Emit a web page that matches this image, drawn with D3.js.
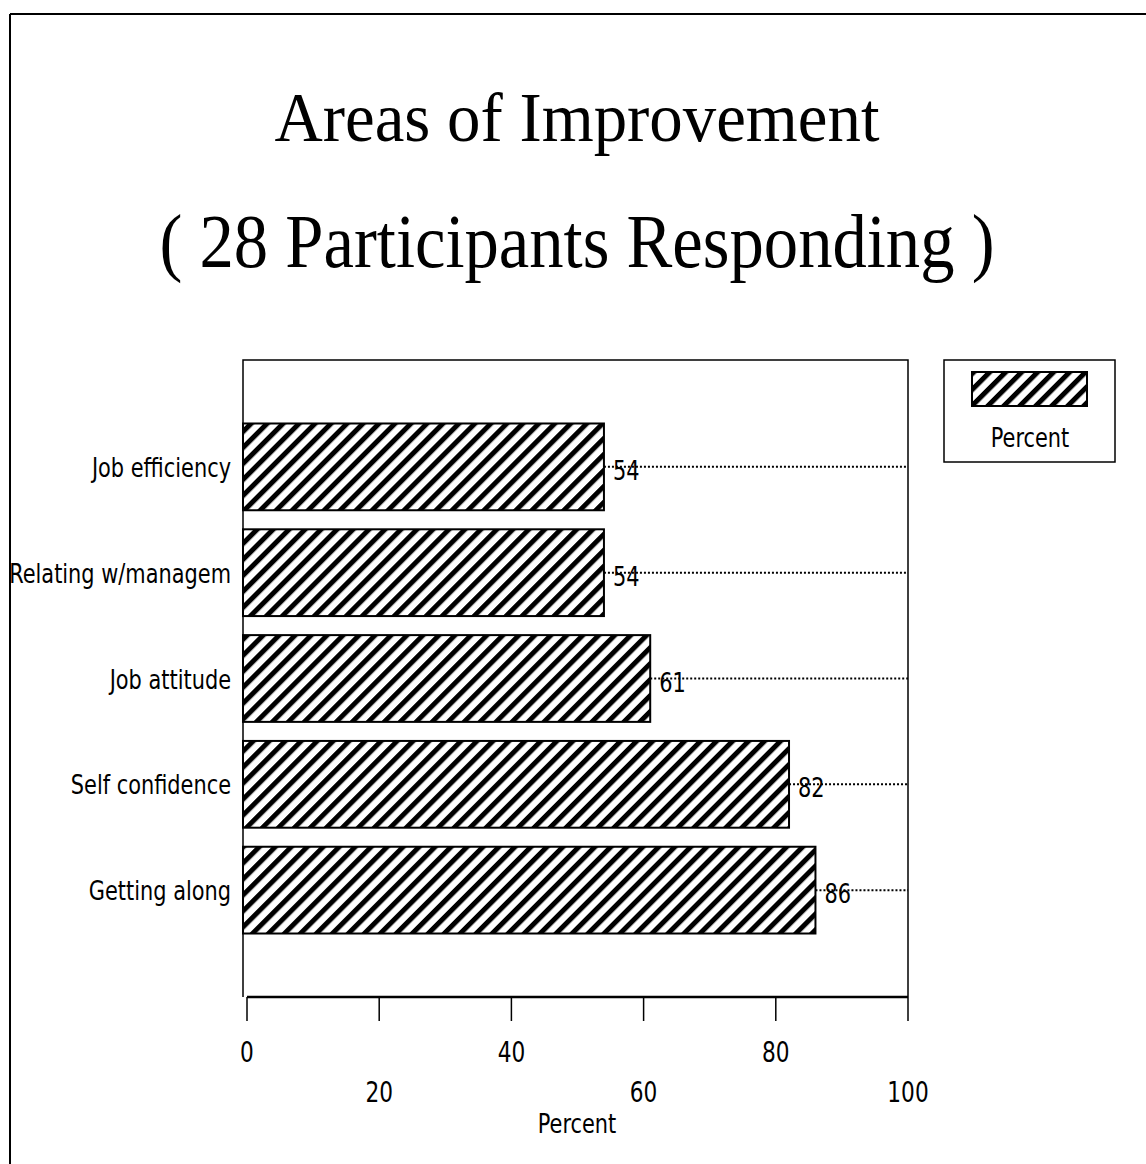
<!DOCTYPE html>
<html>
<head>
    <meta charset="utf-8">
    <script src="https://cdn.jsdelivr.net/npm/d3@7"></script>
    <style>
        body { margin: 0; background: #fff; }
        .lbl { font-family: "Liberation Sans Narrow", "DejaVu Sans Condensed", "Liberation Sans", sans-serif; font-stretch: condensed; fill: #000; }
        .ttl { font-family: "Liberation Serif", "DejaVu Serif", serif; fill: #000; }
    </style>
</head>
<body>
<div id="chart"></div>
<script>
    // data
    var categories = ["Job efficiency", "Relating w/managem", "Job attitude", "Self confidence", "Getting along"];
    var percent = [54, 54, 61, 82, 86];
    var tickValues = [0, 20, 40, 60, 80, 100];
    var seriesName = "Percent";

    var W = 1146, H = 1164;
    var plotLeft = 247, plotRight = 908, plotTop = 360, plotBottom = 997;
    var squeeze = 0.86; // narrow the sans labels like the old plotter font

    function place(px, py) {
        return "translate(" + px + "," + py + ") scale(" + squeeze + ",1)";
    }

    var svg = d3.select("#chart").append("svg").attr("width", W).attr("height", H);

    // hatch pattern
    var defs = svg.append("defs");
    var pat = defs.append("pattern")
        .attr("id", "hatch")
        .attr("patternUnits", "userSpaceOnUse")
        .attr("width", 11.3).attr("height", 11.3)
        .attr("patternTransform", "rotate(45)");
    pat.append("rect").attr("width", 11.3).attr("height", 11.3).attr("fill", "#fff");
    pat.append("rect").attr("x", 0).attr("width", 5).attr("height", 11.3).attr("fill", "#000");

    // outer frame (only left and top visible in scan)
    svg.append("line").attr("x1", 10).attr("y1", 14).attr("x2", W).attr("y2", 14).attr("stroke", "#000").attr("stroke-width", 2);
    svg.append("line").attr("x1", 10).attr("y1", 14).attr("x2", 10).attr("y2", H).attr("stroke", "#000").attr("stroke-width", 2);

    // titles
    svg.append("text").attr("class", "ttl")
        .attr("x", 577).attr("y", 141)
        .attr("text-anchor", "middle")
        .attr("font-size", 70)
        .attr("textLength", 605).attr("lengthAdjust", "spacingAndGlyphs")
        .text("Areas of Improvement");
    svg.append("text").attr("class", "ttl")
        .attr("x", 577).attr("y", 267)
        .attr("text-anchor", "middle")
        .attr("font-size", 76)
        .attr("textLength", 835).attr("lengthAdjust", "spacingAndGlyphs")
        .text("( 28 Participants Responding )");

    var x = d3.scaleLinear().domain([0, 100]).range([plotLeft, plotRight]);
    var y = d3.scaleBand().domain(categories).range([plotTop, plotBottom]).paddingInner(0.18).paddingOuter(0.6);

    // plot frame
    svg.append("path")
        .attr("d", "M" + (plotLeft - 4) + "," + plotBottom + "V" + plotTop + "H" + plotRight + "V" + plotBottom)
        .attr("fill", "none").attr("stroke", "#000").attr("stroke-width", 1.5);

    // bars
    svg.selectAll("rect.bar").data(categories).enter().append("rect")
        .attr("class", "bar")
        .attr("x", plotLeft - 4)
        .attr("y", function (d) { return y(d); })
        .attr("width", function (d, i) { return x(percent[i]) - plotLeft + 4; })
        .attr("height", y.bandwidth())
        .attr("fill", "url(#hatch)")
        .attr("stroke", "#000").attr("stroke-width", 2);

    // dotted leaders
    svg.selectAll("line.lead").data(categories).enter().append("line")
        .attr("class", "lead")
        .attr("x1", function (d, i) { return x(percent[i]); })
        .attr("x2", plotRight)
        .attr("y1", function (d) { return y(d) + y.bandwidth() / 2; })
        .attr("y2", function (d) { return y(d) + y.bandwidth() / 2; })
        .attr("stroke", "#000").attr("stroke-width", 2)
        .attr("stroke-dasharray", "2,2");

    // value labels
    svg.selectAll("text.val").data(categories).enter().append("text")
        .attr("class", "lbl val")
        .attr("transform", function (d, i) { return place(x(percent[i]) + 9, y(d) + y.bandwidth() / 2 + 13); })
        .attr("font-size", 27)
        .text(function (d, i) { return percent[i]; });

    // category labels
    svg.selectAll("text.cat").data(categories).enter().append("text")
        .attr("class", "lbl cat")
        .attr("transform", function (d) { return place(231, y(d) + y.bandwidth() / 2 + 10); })
        .attr("text-anchor", "end")
        .attr("font-size", 27)
        .text(function (d) { return d; });

    // x axis
    var axis = svg.append("g").attr("transform", "translate(0," + plotBottom + ")");
    axis.append("line").attr("x1", plotLeft).attr("x2", plotRight).attr("stroke", "#000").attr("stroke-width", 2.5);
    axis.selectAll("line.tick").data(tickValues).enter().append("line")
        .attr("class", "tick")
        .attr("x1", function (d) { return x(d); }).attr("x2", function (d) { return x(d); })
        .attr("y1", 0).attr("y2", 24)
        .attr("stroke", "#000").attr("stroke-width", 1.5);
    axis.selectAll("text").data(tickValues).enter().append("text")
        .attr("class", "lbl")
        .attr("transform", function (d, i) { return place(x(d), i % 2 === 0 ? 65 : 105); })
        .attr("text-anchor", "middle")
        .attr("font-size", 28)
        .text(function (d) { return d; });

    svg.append("text").attr("class", "lbl")
        .attr("transform", place(577, 1133))
        .attr("text-anchor", "middle")
        .attr("font-size", 27)
        .text(seriesName);

    // legend
    var lg = svg.append("g");
    lg.append("rect").attr("x", 944).attr("y", 360).attr("width", 171).attr("height", 102)
        .attr("fill", "none").attr("stroke", "#000").attr("stroke-width", 1.5);
    lg.append("rect").attr("x", 972).attr("y", 372).attr("width", 115).attr("height", 34)
        .attr("fill", "url(#hatch)").attr("stroke", "#000").attr("stroke-width", 2);
    lg.append("text").attr("class", "lbl")
        .attr("transform", place(1030, 447))
        .attr("text-anchor", "middle")
        .attr("font-size", 27)
        .text(seriesName);
</script>
</body>
</html>
